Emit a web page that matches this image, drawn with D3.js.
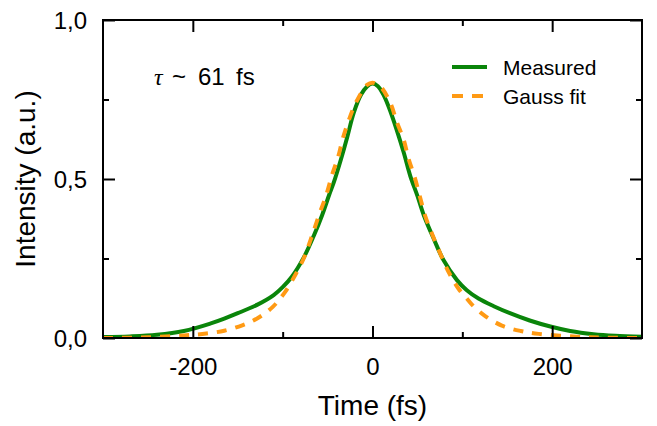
<!DOCTYPE html>
<html>
<head>
<meta charset="utf-8">
<script src="https://cdn.jsdelivr.net/npm/d3@7"></script>
<style>
  body { margin: 0; background: #fff; }
  svg text { font-family: "Liberation Sans", Arial, sans-serif; fill: #000; }
</style>
</head>
<body>
<svg id="chart" width="657" height="426"></svg>
<script>
// measured autocorrelation trace (time in fs, intensity)
var measuredTime = [-300, -270, -240, -210, -180, -165, -150, -128, -110, -100, -90, -76, -65, -56, -48, -43, -35, -28, -21, -13, -6, 0,
  6, 12, 18, 27, 35, 42, 50, 57, 68, 79, 94, 105, 118, 135, 153, 175, 198, 220, 246, 270, 300];
var measuredValue = [0.003, 0.005, 0.010, 0.022, 0.046, 0.061, 0.078, 0.105, 0.135, 0.160, 0.192, 0.256, 0.324, 0.387, 0.452, 0.490, 0.563, 0.633, 0.707, 0.764, 0.791, 0.800,
  0.792, 0.766, 0.727, 0.654, 0.581, 0.510, 0.447, 0.387, 0.313, 0.245, 0.182, 0.150, 0.124, 0.100, 0.078, 0.055, 0.036, 0.022, 0.012, 0.007, 0.004];

// gaussian fit
var fitTime = [-300, -250, -210, -185, -165, -145, -128, -111, -97, -86, -76, -69, -58, -52, -45, -38, -33, -26, -18, -6, 0,
  9, 20, 27, 35, 40, 47, 53, 59, 67, 76, 85, 96, 105, 111, 124, 144, 165, 185, 227, 260, 300];
var fitValue = [0.000, 0.002, 0.008, 0.014, 0.023, 0.040, 0.062, 0.098, 0.146, 0.198, 0.254, 0.308, 0.399, 0.445, 0.513, 0.572, 0.628, 0.688, 0.743, 0.796, 0.803,
  0.790, 0.738, 0.680, 0.621, 0.565, 0.505, 0.442, 0.381, 0.322, 0.262, 0.206, 0.154, 0.124, 0.104, 0.072, 0.039, 0.022, 0.013, 0.004, 0.001, 0.000];

var xMajor = [-200, 0, 200];
var xMinor = [-100, 100];
var yMajor = [0, 0.5, 1.0];
var yMinor = [0.25, 0.75];

var seriesNames = ["Measured", "Gauss fit"];

var svg = d3.select("#chart");
var pl = 103, pr = 642, pt = 20, pb = 338;   // plot box edges

var x = d3.scaleLinear().domain([-300, 300]).range([pl, pr]);
var y = d3.scaleLinear().domain([0, 1]).range([pb, pt]);

svg.append("defs").append("clipPath").attr("id", "plotclip")
  .append("rect")
  .attr("x", pl).attr("y", pt)
  .attr("width", pr - pl).attr("height", pb - pt);

function zip(ts, vs) {
  return ts.map(function(t, i) { return { t: t, v: vs[i] }; });
}

var line = d3.line()
  .x(function(d) { return x(d.t); })
  .y(function(d) { return y(d.v); })
  .curve(d3.curveCatmullRom.alpha(0.5));

var plot = svg.append("g").attr("clip-path", "url(#plotclip)");

plot.append("path")
  .datum(zip(measuredTime, measuredValue))
  .attr("d", line)
  .attr("fill", "none")
  .attr("stroke", "#0a850a")
  .attr("stroke-width", 4);

plot.append("path")
  .datum(zip(fitTime, fitValue))
  .attr("d", line)
  .attr("fill", "none")
  .attr("stroke", "#ff9a14")
  .attr("stroke-width", 4)
  .attr("stroke-dasharray", "10,9");

// axes: ticks pointing inward on all four sides
function styleAxis(g) {
  g.select(".domain").remove();
  g.selectAll(".tick line").attr("stroke", "#000").attr("stroke-width", 2);
}

var fmtX = function(d) { return String(d); };
var fmtY = function(d) { return d.toFixed(1).replace(".", ","); };

var gx = svg.append("g").attr("transform", "translate(0," + pb + ")")
  .call(d3.axisBottom(x).tickValues(xMajor).tickSize(-12).tickPadding(24).tickFormat(fmtX));
styleAxis(gx);
gx.selectAll(".tick text").attr("font-size", 24).attr("dy", null).attr("y", 37);

svg.append("g").attr("transform", "translate(0," + pb + ")")
  .call(d3.axisBottom(x).tickValues(xMinor).tickSize(-6).tickFormat(""))
  .call(styleAxis);
svg.append("g").attr("transform", "translate(0," + pt + ")")
  .call(d3.axisTop(x).tickValues(xMajor).tickSize(-12).tickFormat(""))
  .call(styleAxis);
svg.append("g").attr("transform", "translate(0," + pt + ")")
  .call(d3.axisTop(x).tickValues(xMinor).tickSize(-6).tickFormat(""))
  .call(styleAxis);

var gy = svg.append("g").attr("transform", "translate(" + pl + ",0)")
  .call(d3.axisLeft(y).tickValues(yMajor).tickSize(-12).tickPadding(16).tickFormat(fmtY));
styleAxis(gy);
gy.selectAll(".tick text").attr("font-size", 24).attr("dy", null).attr("y", 8.5).attr("x", -16);

svg.append("g").attr("transform", "translate(" + pl + ",0)")
  .call(d3.axisLeft(y).tickValues(yMinor).tickSize(-6).tickFormat(""))
  .call(styleAxis);
svg.append("g").attr("transform", "translate(" + pr + ",0)")
  .call(d3.axisRight(y).tickValues(yMajor).tickSize(-12).tickFormat(""))
  .call(styleAxis);
svg.append("g").attr("transform", "translate(" + pr + ",0)")
  .call(d3.axisRight(y).tickValues(yMinor).tickSize(-6).tickFormat(""))
  .call(styleAxis);

// frame
svg.append("rect")
  .attr("x", pl).attr("y", pt)
  .attr("width", pr - pl).attr("height", pb - pt)
  .attr("fill", "none").attr("stroke", "#000").attr("stroke-width", 2);

// axis titles
svg.append("text")
  .attr("x", (pl + pr) / 2).attr("y", 415)
  .attr("text-anchor", "middle").attr("font-size", 28)
  .text("Time (fs)");

svg.append("text")
  .attr("transform", "translate(35," + ((pt + pb) / 2) + ") rotate(-90)")
  .attr("text-anchor", "middle").attr("font-size", 28)
  .text("Intensity (a.u.)");

// annotation
var ann = svg.append("text").attr("y", 85).attr("font-size", 24);
ann.append("tspan").attr("x", 154)
  .style("font-family", "'Liberation Serif', 'Times New Roman', serif")
  .style("font-style", "italic").text("τ");
ann.append("tspan").attr("x", 172).text("~");
ann.append("tspan").attr("x", 198).text("61");
ann.append("tspan").attr("x", 236).text("fs");

// legend
var legend = svg.append("g");
var legendStyles = [
  { color: "#0a850a", dash: null, y: 67 },
  { color: "#ff9a14", dash: "11,9", y: 96 }
];
seriesNames.forEach(function(name, i) {
  var s = legendStyles[i];
  legend.append("line")
    .attr("x1", 452).attr("x2", 487)
    .attr("y1", s.y).attr("y2", s.y)
    .attr("stroke", s.color).attr("stroke-width", 4)
    .attr("stroke-dasharray", s.dash);
  legend.append("text")
    .attr("x", 503).attr("y", s.y + 7.5)
    .attr("font-size", 21)
    .text(name);
});
</script>
</body>
</html>
